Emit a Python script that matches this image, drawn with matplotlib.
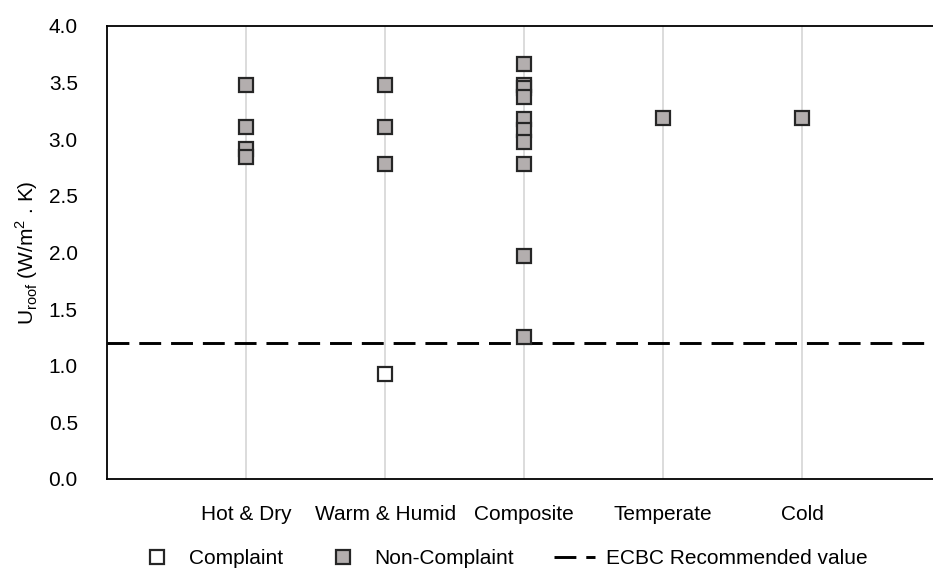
import matplotlib
matplotlib.use("Agg")
import matplotlib.pyplot as plt

plt.rcParams["font.family"] = ["Liberation Sans", "DejaVu Sans"]
plt.rcParams["mathtext.fontset"] = "custom"
plt.rcParams["mathtext.rm"] = "Liberation Sans"

zones = ["Hot & Dry", "Warm & Humid", "Composite", "Temperate", "Cold"]

# non-complaint buildings, U_roof per zone
hot_dry = [3.48, 3.11, 2.91, 2.84]
warm_humid = [3.48, 3.11, 2.78]
composite = [3.66, 3.48, 3.45, 3.37, 3.18, 3.08, 2.98, 2.78, 1.97, 1.25]
temperate = [3.19]
cold = [3.19]

# complaint buildings
complaint_zone = ["Warm & Humid"]
complaint_u = [0.93]

ecbc_value = 1.2

fig = plt.figure(figsize=(9.33, 5.84), dpi=100)
ax = fig.add_axes([0.1147, 0.1798, 0.8853, 0.7757])

non_x, non_y = [], []
for i, vals in enumerate([hot_dry, warm_humid, composite, temperate, cold]):
    non_x += [i + 1] * len(vals)
    non_y += vals
comp_x = [zones.index(z) + 1 for z in complaint_zone]

for i in range(len(zones)):
    ax.axvline(i + 1, color="#d9d9d9", lw=1.3, zorder=0)

ax.axhline(ecbc_value, color="black", lw=2.1, ls=(0, (7.5, 3.4)), zorder=1,
           label="ECBC Recommended value")
ax.plot(comp_x, complaint_u, ls="none", marker="s", ms=10.5, mfc="white",
        mec="#262626", mew=1.6, zorder=3, label="Complaint")
ax.plot(non_x, non_y, ls="none", marker="s", ms=10.5, mfc="#b3aeae",
        mec="#262626", mew=1.6, zorder=3, label="Non-Complaint")

ax.set_xlim(0, 5.94)
ax.set_ylim(0, 4.0)
ax.set_yticks([0, 0.5, 1.0, 1.5, 2.0, 2.5, 3.0, 3.5, 4.0])
ax.set_yticklabels([f"{v:.1f}" for v in ax.get_yticks()], fontsize=15)
ax.set_xticks(range(1, len(zones) + 1))
ax.set_xticklabels(zones, fontsize=15)
ax.tick_params(axis="both", length=0)
ax.tick_params(axis="y", pad=21)
ax.tick_params(axis="x", pad=19)
for s in ["left", "bottom", "top"]:
    ax.spines[s].set_color("black")
    ax.spines[s].set_linewidth(1.3)
ax.spines["right"].set_visible(False)

ax.set_ylabel(r"U$_{\mathrm{roof}}$ (W/m$^{2}$ . K)", fontsize=15, labelpad=6)

h, l = ax.get_legend_handles_labels()
order = [1, 2, 0]
fig.legend([h[k] for k in order], [l[k] for k in order], loc="lower center",
           bbox_to_anchor=(0.538, -0.005), ncol=3, frameon=False, fontsize=15,
           handlelength=2.0, handletextpad=0.5, columnspacing=1.9)

fig.savefig("out.png", dpi=100)
